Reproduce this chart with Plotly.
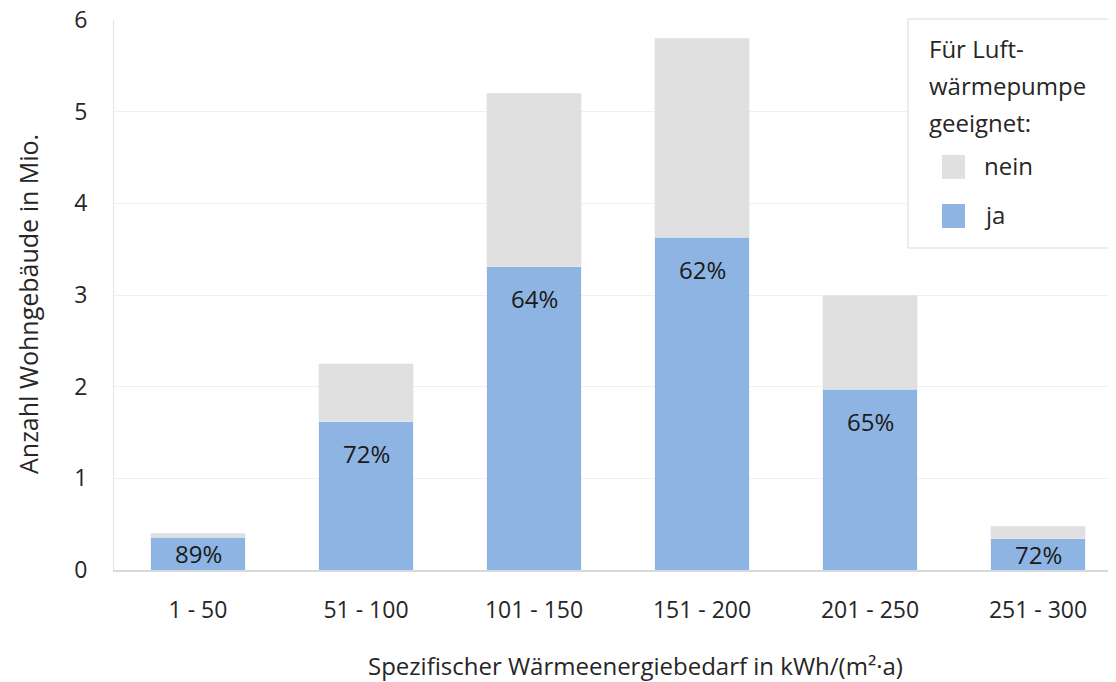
import plotly.graph_objects as go

categories = ["1 - 50", "51 - 100", "101 - 150", "151 - 200", "201 - 250", "251 - 300"]
ja_values = [0.36, 1.62, 3.31, 3.63, 1.97, 0.34]
nein_values = [0.04, 0.63, 1.89, 2.17, 1.03, 0.14]
pct_labels = ["89%", "72%", "64%", "62%", "65%", "72%"]
y_ticks = [0, 1, 2, 3, 4, 5, 6]
legend_title_lines = ["Für Luft-", "wärmepumpe", "geeignet:"]
legend_names = ["nein", "ja"]

FONT = "Open Sans, Noto Sans, sans-serif"
TXT = "#262626"
BLUE = "#8DB4E2"
GREY = "#E0E0E0"
COLORS = {"ja": BLUE, "nein": GREY}

# layout geometry (figure pixels)
W, H = 1116, 682
ML, MT, MR, MB = 106, 12, 2, 120
PW = W - ML - MR
PH = H - MT - MB

fig = go.Figure()
fig.add_trace(go.Bar(x=categories, y=ja_values, name="ja", marker_color=BLUE,
                     hoverinfo="skip", showlegend=False))
fig.add_trace(go.Bar(x=categories, y=nein_values, name="nein", marker_color=GREY,
                     hoverinfo="skip", showlegend=False))

# percentage labels inside the blue bars, near the top (centred if the bar is short)
px_per_unit = PH / 6.0
offset = 32 / px_per_unit
for c, v, t in zip(categories, ja_values, pct_labels):
    yl = max(v - offset, v / 2)
    fig.add_annotation(x=c, y=yl, text=t, showarrow=False, xref="x", yref="y",
                       yanchor="middle", font=dict(family=FONT, size=24, color="#1a1a1a"))

# axis titles
fig.add_annotation(x=(627 - ML) / PW, y=0, xref="paper", yref="paper", yshift=-95,
                   text="Spezifischer Wärmeenergiebedarf in kWh/(m²·a)", showarrow=False,
                   xanchor="center", yanchor="middle", font=dict(family=FONT, size=24, color=TXT))
fig.add_annotation(x=0, y=(MT + PH - 296) / PH, xref="paper", yref="paper", xshift=-(ML - 20),
                   text="Anzahl Wohngebäude in Mio.", showarrow=False, textangle=-90,
                   xanchor="center", yanchor="middle", font=dict(family=FONT, size=25, color=TXT))

# legend box (drawn manually to reproduce the large square keys)
lx = (900 - ML) / PW          # legend left edge in paper units
ly = (MT + PH - 11) / PH      # legend top edge in paper units
fig.add_shape(type="rect", xref="paper", yref="paper", x0=lx, x1=1.05, y0=ly - 229 / PH, y1=ly,
              line=dict(color="#D9D9D9", width=1), fillcolor="white", layer="above")
for i, line in enumerate(legend_title_lines):
    fig.add_annotation(x=lx, y=ly, xref="paper", yref="paper", xshift=19, yshift=-(29 + 37 * i),
                       text=line, showarrow=False, xanchor="left", yanchor="middle",
                       font=dict(family=FONT, size=24, color=TXT))
for i, name in enumerate(legend_names):
    cy = ly - (148 + 49 * i) / PH
    fig.add_shape(type="rect", xref="paper", yref="paper", xsizemode="pixel", ysizemode="pixel",
                  xanchor=lx, yanchor=cy, x0=34, x1=57, y0=-12, y1=12,
                  line=dict(width=0), fillcolor=COLORS[name], layer="above")
    fig.add_annotation(x=lx, y=cy, xref="paper", yref="paper", xshift=74, yshift=2,
                       text=name, showarrow=False, xanchor="left", yanchor="middle",
                       font=dict(family=FONT, size=24, color=TXT))

fig.update_layout(
    width=W, height=H,
    margin=dict(l=ML, r=MR, t=MT, b=MB, autoexpand=False),
    barmode="stack", bargap=0.44,
    plot_bgcolor="white", paper_bgcolor="white",
    font=dict(family=FONT, size=22, color=TXT),
    showlegend=False,
    xaxis=dict(range=[-0.5, 5.5], showline=True, linecolor="#D9D9D9", linewidth=2,
               ticks="outside", ticklen=18, tickcolor="rgba(0,0,0,0)",
               tickfont=dict(size=23, color=TXT), showgrid=False, automargin=False,
               ticklabeloverflow="allow"),
    yaxis=dict(range=[0, 6], tickvals=y_ticks, showline=True, linecolor="#E3E3E3", linewidth=1,
               gridcolor="#F0F0F0", gridwidth=1, zeroline=False,
               ticks="outside", ticklen=21, tickcolor="rgba(0,0,0,0)",
               tickfont=dict(size=23, color=TXT), automargin=False,
               ticklabeloverflow="allow"),
)

fig.write_html("out.html")
